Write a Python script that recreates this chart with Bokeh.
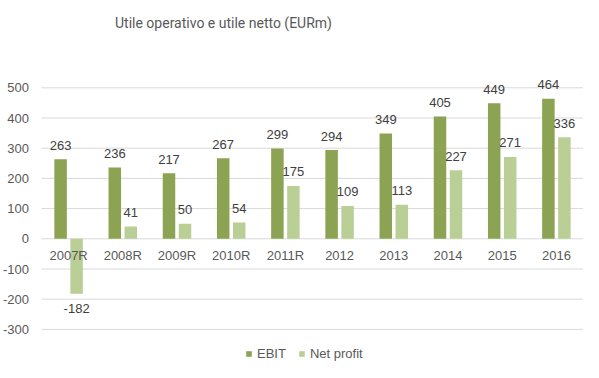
from bokeh.plotting import figure
from bokeh.models import Range1d, ColumnDataSource, Legend, LegendItem, Label
from bokeh.core.properties import value
from bokeh.embed import file_html
from bokeh.resources import INLINE

# ---- data ----
categories = ["2007R", "2008R", "2009R", "2010R", "2011R",
              "2012", "2013", "2014", "2015", "2016"]
ebit = [263, 236, 217, 267, 299, 294, 349, 405, 449, 464]
net_profit = [-182, 41, 50, 54, 175, 109, 113, 227, 271, 336]
y_ticks = [-300, -200, -100, 0, 100, 200, 300, 400, 500]
title_text = "Utile operativo e utile netto (EURm)"
series_names = ["EBIT", "Net profit"]

# ---- layout constants (pixels inside the figure) ----
W, H = 583, 362
PX_PER_UNIT = 0.302     # vertical pixels per EUR m
ZERO_PX = 238.3         # figure y pixel of value 0
CAT_W = 54.2            # pixel width of one category
PLOT_LEFT = 41          # figure x pixel where the category area starts
BAR_W = 12.5 / CAT_W
BAR_OFF = 8 / CAT_W

EBIT_COLOR = "#8BA353"
NET_COLOR = "#B9CF96"
GRID_COLOR = "#D9D9D9"
AXIS_TEXT = "#595959"
LABEL_TEXT = "#404040"
FONT = "Liberation Sans"


def dy(py):
    return (ZERO_PX - py) / PX_PER_UNIT


def dx(px):
    return (px - PLOT_LEFT) / CAT_W


p = figure(width=W, height=H, output_backend="svg", toolbar_location=None,
           x_range=Range1d(dx(0), dx(W)), y_range=Range1d(dy(H), dy(0)),
           x_axis_location=None, y_axis_location=None,
           min_border=0, outline_line_color=None)
p.grid.visible = False
p.background_fill_color = "white"

n = len(categories)
centers = [i + 0.5 for i in range(n)]

# gridlines
p.segment(x0=[0] * len(y_ticks), x1=[n] * len(y_ticks), y0=y_ticks, y1=y_ticks,
          line_color=GRID_COLOR, line_width=1)

# y tick labels
p.text(x=[dx(28.5)] * len(y_ticks), y=y_ticks, text=[str(t) for t in y_ticks],
       text_align="right", text_baseline="middle",
       text_font=value(FONT), text_font_size=value("13px"), text_color=AXIS_TEXT)

# bars
src_e = ColumnDataSource(dict(x=[c - BAR_OFF for c in centers], top=ebit,
                              lbl=[str(v) for v in ebit],
                              off=[-14 if v >= 0 else 15 for v in ebit]))
src_n = ColumnDataSource(dict(x=[c + BAR_OFF for c in centers], top=net_profit,
                              lbl=[str(v) for v in net_profit],
                              off=[-14 if v >= 0 else 15 for v in net_profit]))
r1 = p.vbar(x="x", top="top", bottom=0, width=BAR_W, source=src_e,
            fill_color=EBIT_COLOR, line_color=None)
r2 = p.vbar(x="x", top="top", bottom=0, width=BAR_W, source=src_n,
            fill_color=NET_COLOR, line_color=None)

# data labels
for src in (src_e, src_n):
    p.text(x="x", y="top", text="lbl", y_offset="off", source=src,
           text_align="center", text_baseline="middle",
           text_font=value(FONT), text_font_size=value("13px"), text_color=LABEL_TEXT)

# category labels
p.text(x=centers, y=[0] * n, text=categories, y_offset=17,
       text_align="center", text_baseline="middle",
       text_font=value(FONT), text_font_size=value("13px"), text_color=AXIS_TEXT)

# title
p.add_layout(Label(x=dx(114.5), y=dy(22.5), text=title_text,
                   text_font="Roboto", text_font_size="14px",
                   text_baseline="middle", text_color=AXIS_TEXT))

legend = Legend(items=[LegendItem(label=series_names[0], renderers=[r1]),
                       LegendItem(label=series_names[1], renderers=[r2])],
                orientation="horizontal", location=(245, 1),
                glyph_width=7, glyph_height=7, label_height=13,
                label_text_font=FONT, label_text_font_size="13px",
                label_text_color=AXIS_TEXT, label_standoff=5, spacing=12,
                padding=0, margin=0, border_line_color=None,
                background_fill_alpha=0)
p.add_layout(legend)

open("out.html", "w").write(file_html(p, INLINE))
